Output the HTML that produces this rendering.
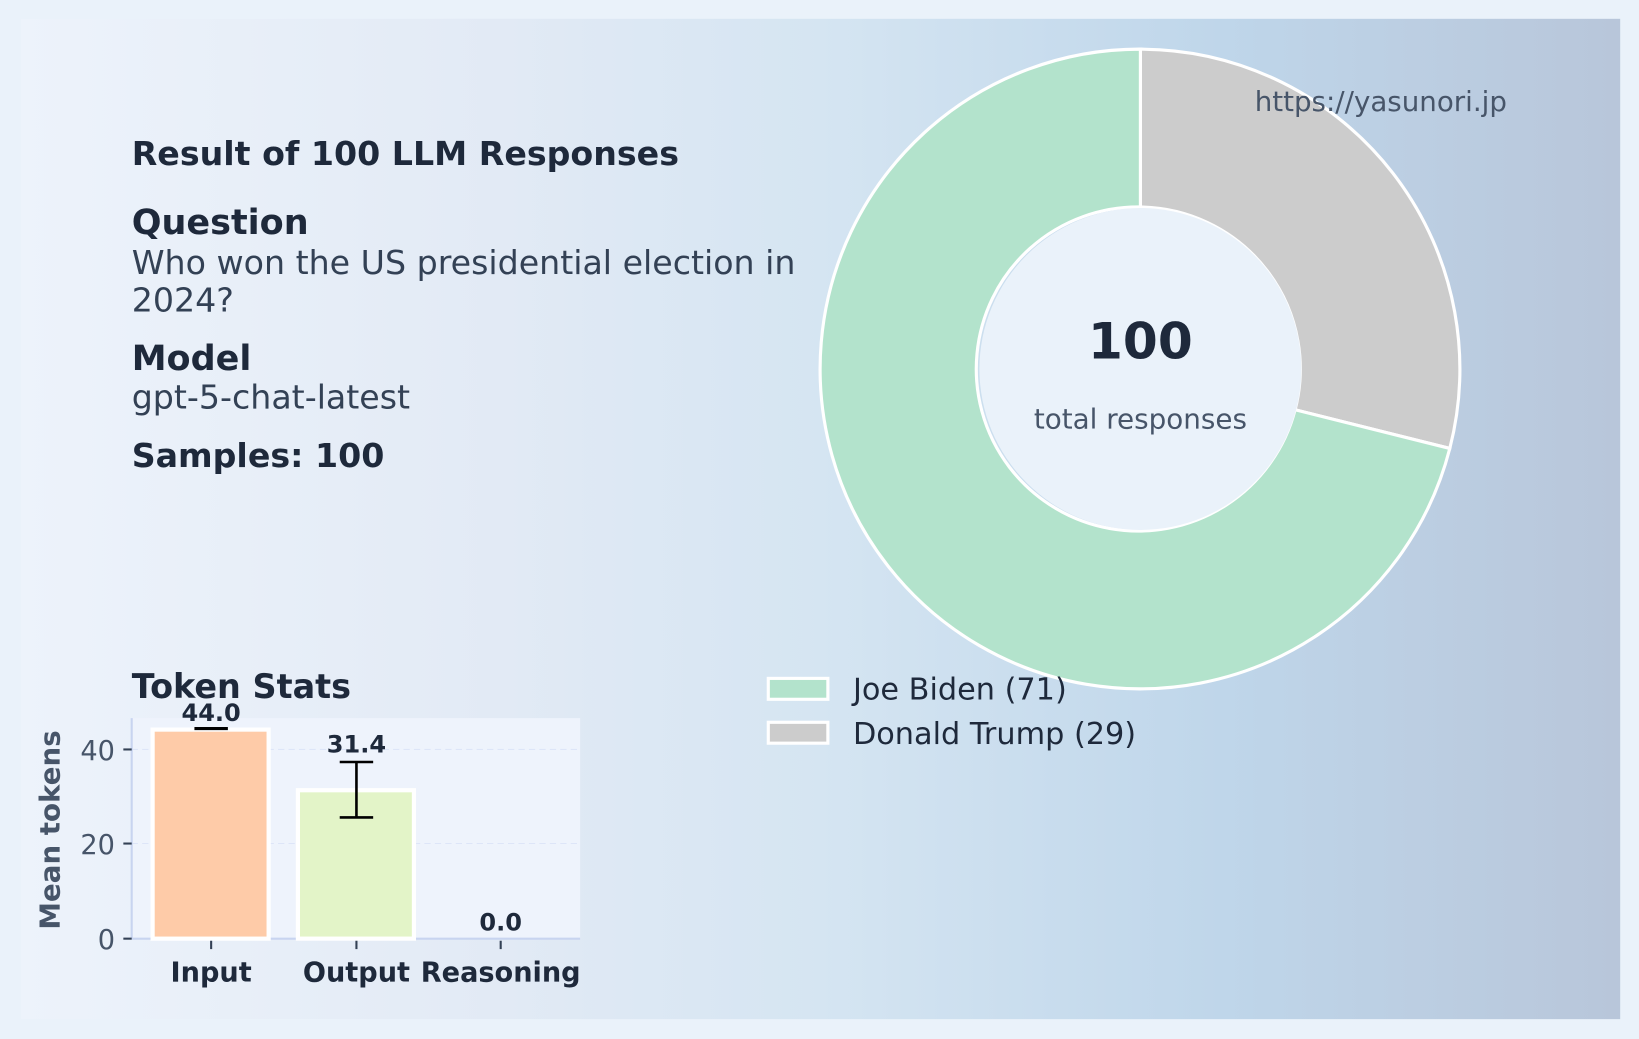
<!DOCTYPE html>
<html><head><meta charset="utf-8"><style>
html,body{margin:0;padding:0;background:#eaf2fa;}
svg{display:block;font-family:"DejaVu Sans","Liberation Sans",sans-serif;}
</style></head><body>
<svg width="1639" height="1039" viewBox="0 0 1568 994" preserveAspectRatio="none" xmlns="http://www.w3.org/2000/svg">
<defs>
<linearGradient id="bg" x1="0" y1="0" x2="1" y2="0">
<stop offset="0" stop-color="#edf3fb"/>
<stop offset="0.3" stop-color="#e2eaf5"/>
<stop offset="0.5" stop-color="#d5e5f2"/>
<stop offset="0.75" stop-color="#bfd6ea"/>
<stop offset="1" stop-color="#b8c6da"/>
</linearGradient>
</defs>
<rect x="0" y="0" width="1568" height="994" fill="#eaf2fa"/>
<rect x="20" y="18" width="1530" height="957" fill="url(#bg)"/>

<text x="126" y="158" font-size="31.8" font-weight="bold" fill="#1e293b">Result of 100 LLM Responses</text>
<text x="126" y="224" font-size="33.5" font-weight="bold" fill="#1e293b">Question</text>
<text x="126" y="262" font-size="31.8" fill="#334155">Who won the US presidential election in</text>
<text x="126" y="298" font-size="31.8" fill="#334155">2024?</text>
<text x="126" y="354" font-size="33.5" font-weight="bold" fill="#1e293b">Model</text>
<text x="126" y="391" font-size="31.8" fill="#334155">gpt-5-chat-latest</text>
<text x="126" y="447" font-size="31.8" font-weight="bold" fill="#1e293b">Samples: 100</text>

<!-- donut -->
<path d="M1091 47 A306 306 0 0 1 1387 429 L1239 392 A155 155 0 0 0 1091 198 Z" fill="#cccccc" stroke="#fff" stroke-width="3"/>
<path d="M1387 429 A306 306 0 1 1 1091 47 L1091 198 A155 155 0 1 0 1239 392 Z" fill="#b3e3cc" stroke="#fff" stroke-width="3"/>
<circle cx="1091" cy="353" r="154" fill="#eaf2fa"/>
<text x="1091" y="343" font-size="48" font-weight="bold" fill="#1e293b" text-anchor="middle">100</text>
<text x="1091" y="410" font-size="26.6" fill="#475569" text-anchor="middle">total responses</text>
<text x="1321" y="106" font-size="26.5" fill="#475569" text-anchor="middle">https://yasunori.jp</text>

<!-- legend -->
<rect x="735" y="649" width="57" height="20" fill="#b3e3cc" stroke="#fff" stroke-width="3"/>
<rect x="735" y="691" width="57" height="20" fill="#cccccc" stroke="#fff" stroke-width="3"/>
<text x="816" y="669" font-size="29" fill="#1e293b">Joe Biden (71)</text>
<text x="816" y="712" font-size="29" fill="#1e293b">Donald Trump (29)</text>

<!-- bar chart -->
<text x="126" y="668" font-size="32" font-weight="bold" fill="#1e293b">Token Stats</text>
<rect x="126" y="687" width="429" height="211" fill="#eef3fc"/>
<line x1="126" y1="717" x2="555" y2="717" stroke="#dde5f8" stroke-dasharray="6,4"/>
<line x1="126" y1="807" x2="555" y2="807" stroke="#dde5f8" stroke-dasharray="6,4"/>
<line x1="126" y1="687" x2="126" y2="898" stroke="#c8d4f0" stroke-width="2"/>
<line x1="126" y1="898" x2="555" y2="898" stroke="#c8d4f0" stroke-width="2"/>
<rect x="146" y="698" width="111" height="200" fill="#fecba8" stroke="#fff" stroke-width="4"/>
<rect x="285" y="756" width="111" height="142" fill="#e3f4c8" stroke="#fff" stroke-width="4"/>
<line x1="186" y1="697" x2="218" y2="697" stroke="#000" stroke-width="3"/>
<line x1="341" y1="729" x2="341" y2="782" stroke="#000" stroke-width="2.5"/>
<line x1="325" y1="729" x2="357" y2="729" stroke="#000" stroke-width="2.5"/>
<line x1="325" y1="782" x2="357" y2="782" stroke="#000" stroke-width="2.5"/>
<text x="202" y="690" font-size="23" font-weight="bold" fill="#1e293b" text-anchor="middle">44.0</text>
<text x="341" y="720" font-size="23" font-weight="bold" fill="#1e293b" text-anchor="middle">31.4</text>
<text x="479" y="890" font-size="23" font-weight="bold" fill="#1e293b" text-anchor="middle">0.0</text>
<g stroke="#334155" stroke-width="2">
<line x1="118" y1="717" x2="126" y2="717"/><line x1="118" y1="807" x2="126" y2="807"/><line x1="118" y1="898" x2="126" y2="898"/>
<line x1="202" y1="900" x2="202" y2="908"/><line x1="341" y1="900" x2="341" y2="908"/><line x1="479" y1="900" x2="479" y2="908"/>
</g>
<g font-size="26" fill="#475569" text-anchor="end">
<text x="110" y="727">40</text><text x="110" y="817">20</text><text x="110" y="908">0</text>
</g>
<g font-size="26" font-weight="bold" fill="#1e293b" text-anchor="middle">
<text x="202" y="939">Input</text><text x="341" y="939">Output</text><text x="479" y="939">Reasoning</text>
</g>
<text transform="translate(57,794) rotate(-90)" font-size="26.5" font-weight="bold" fill="#475569" text-anchor="middle">Mean tokens</text>
</svg>
</body></html>
